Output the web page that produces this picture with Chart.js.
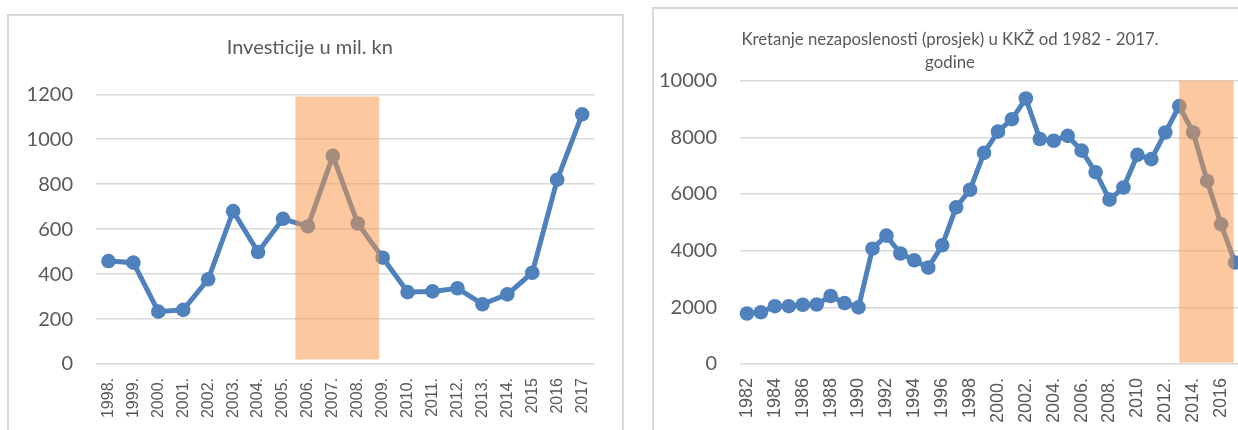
<!DOCTYPE html>
<html>
<head>
<meta charset="utf-8">
<script src="https://cdn.jsdelivr.net/npm/chart.js@4"></script>
<style>
  html, body { margin: 0; padding: 0; background: #fff; overflow: hidden; width: 1238px; height: 430px; }
  .box { position: absolute; box-sizing: border-box; border: 2px solid #d9d9d9; }
  canvas { position: absolute; }
</style>
</head>
<body>
<div class="box" style="left:7px;top:14px;width:617px;height:440px;"></div>
<div class="box" style="left:652px;top:7px;width:620px;height:440px;"></div>
<canvas id="investChart" width="616" height="415" style="left:7px;top:15px;"></canvas>
<canvas id="unempChart" width="610" height="422" style="left:653px;top:8px;"></canvas>
<script>
// investicije (mil. kn)
var investYears = ["1998.", "1999.", "2000.", "2001.", "2002.", "2003.", "2004.", "2005.", "2006.", "2007.",
    "2008.", "2009.", "2010.", "2011.", "2012.", "2013.", "2014.", "2015", "2016", "2017"];
var investValues = [458, 451, 233, 241, 377, 680, 498, 646, 612, 926,
    625, 473, 320, 323, 337, 266, 310, 406, 820, 1111];
var investTicks = [0, 200, 400, 600, 800, 1000, 1200];

// nezaposlenost KKŽ
var unempYears = ["1982", "1983", "1984", "1985", "1986", "1987", "1988", "1989", "1990", "1991",
    "1992", "1993", "1994", "1995", "1996", "1997", "1998", "1999", "2000.", "2001.",
    "2002.", "2003.", "2004.", "2005.", "2006.", "2007.", "2008.", "2009.", "2010", "2011",
    "2012.", "2013.", "2014.", "2015.", "2016", "2017"];
var unempValues = [1780, 1825, 2040, 2040, 2090, 2100, 2400, 2150, 2000, 4070,
    4530, 3900, 3660, 3400, 4190, 5530, 6150, 7450, 8200, 8640,
    9370, 7940, 7880, 8050, 7530, 6770, 5800, 6230, 7380, 7230,
    8170, 9100, 8170, 6460, 4930, 3580];
var unempTicks = [0, 2000, 4000, 6000, 8000, 10000];

// highlighted periods (category index from/to, value from/to)
var investHighlight = [7.5, 10.86, 20, 1190];
var unempHighlight = [31, 34.9, 50, 10000];

var blue = "rgb(79, 129, 189)";
var grey = "#595959";

var highlightPlugin = {
    id: "highlight",
    afterDatasetsDraw: function (chart, args, opts) {
        var x = chart.scales.x, y = chart.scales.y, r = opts.range;
        var x1 = x.getPixelForValue(r[0]), x2 = x.getPixelForValue(r[1]);
        var y1 = y.getPixelForValue(r[3]), y2 = y.getPixelForValue(r[2]);
        var ctx = chart.ctx;
        ctx.save();
        ctx.fillStyle = "rgba(247, 150, 70, 0.52)";
        ctx.fillRect(x1, y1, x2 - x1, y2 - y1);
        ctx.restore();
    }
};

function makeChart(id, cfg) {
    return new Chart(document.getElementById(id), {
        type: "line",
        data: {
            labels: cfg.labels,
            datasets: [{
                data: cfg.values,
                borderColor: blue,
                backgroundColor: blue,
                borderWidth: 5,
                pointRadius: 7.3,
                pointBorderWidth: 0,
                pointBackgroundColor: blue,
                tension: 0
            }]
        },
        options: {
            responsive: false,
            animation: false,
            layout: { padding: cfg.padding },
            plugins: {
                legend: { display: false },
                tooltip: { enabled: false },
                title: {
                    display: true,
                    text: cfg.title,
                    color: grey,
                    font: { family: "Lato", size: cfg.titleSize, weight: "normal", lineHeight: cfg.titleLine },
                    padding: cfg.titlePadding
                },
                highlight: { range: cfg.highlight }
            },
            scales: {
                x: {
                    offset: true,
                    grid: { display: false, drawTicks: false, offset: true },
                    border: { display: false },
                    ticks: {
                        autoSkip: false,
                        minRotation: 90,
                        maxRotation: 90,
                        padding: 14,
                        color: grey,
                        font: { family: "Liberation Sans", size: cfg.xSize },
                        callback: function (value, index) {
                            if (cfg.every && index % cfg.every !== 0) return "";
                            return this.getLabelForValue(value);
                        }
                    },
                    afterFit: function (scale) {
                        scale.height = cfg.xHeight;
                        scale.paddingLeft = 0;
                        scale.paddingRight = 0;
                    }
                },
                y: {
                    min: cfg.ticks[0],
                    max: cfg.ticks[cfg.ticks.length - 1],
                    afterBuildTicks: function (scale) {
                        scale.ticks = cfg.ticks.map(function (v) { return { value: v }; });
                    },
                    grid: { color: "#d9d9d9", lineWidth: 1.5, drawTicks: false },
                    border: { display: false },
                    ticks: {
                        padding: 23,
                        color: grey,
                        font: { family: "Lato", size: 20 },
                        callback: function (value) { return String(value); }
                    },
                    afterFit: function (scale) { scale.width = cfg.yWidth; }
                }
            }
        },
        plugins: [highlightPlugin]
    });
}

var investChart = makeChart("investChart", {
    labels: investYears,
    values: investValues,
    ticks: investTicks,
    highlight: investHighlight,
    title: "Investicije u mil. kn",
    titleSize: 20,
    titleLine: 1.2,
    titlePadding: { top: 21, bottom: 34.3 },
    padding: { left: 18, right: 28.4, top: 0, bottom: 0 },
    yWidth: 71,
    xHeight: 66,
    xSize: 16
});

var unempChart = makeChart("unempChart", {
    labels: unempYears,
    values: unempValues,
    ticks: unempTicks,
    highlight: unempHighlight,
    title: ["Kretanje nezaposlenosti (prosjek) u KKŽ od 1982 - 2017.", "godine"],
    titleSize: 16.8,
    titleLine: 1.35,
    titlePadding: { top: 20.2, bottom: 7.1 },
    padding: { left: 5, right: 21, top: 0, bottom: 0 },
    yWidth: 82,
    xHeight: 66,
    xSize: 18,
    every: 2
});
</script>
</body>
</html>
